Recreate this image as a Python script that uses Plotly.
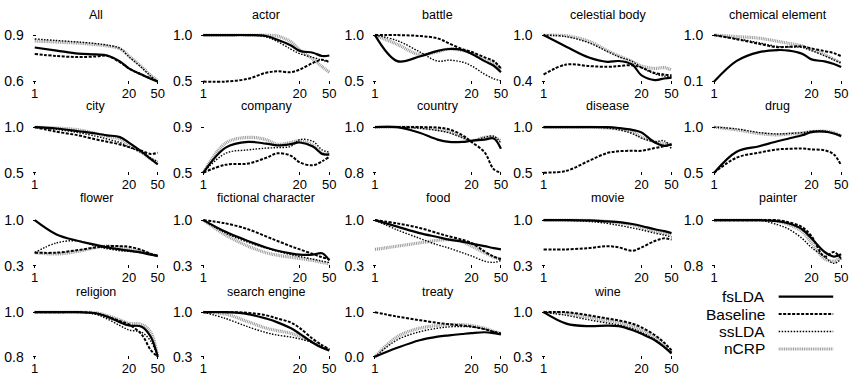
import math
import plotly.graph_objects as go

# ---------------- data ----------------
X = [1, 2, 4, 7, 10, 15, 20, 30, 40, 50]
X_TICKS = [1, 20, 50]
SERIES = ["fsLDA", "Baseline", "ssLDA", "nCRP"]

TITLES = ["All", "actor", "battle", "celestial body", "chemical element",
          "city", "company", "country", "disease", "drug",
          "flower", "fictional character", "food", "movie", "painter",
          "religion", "search engine", "treaty", "wine"]

Y_MIN = [0.6, 0.5, 0.5, 0.4, 0.1,
         0.5, 0.5, 0.8, 0.5, 0.5,
         0.3, 0.3, 0.3, 0.3, 0.8,
         0.8, 0.3, 0.0, 0.3]
Y_MAX = [0.9, 1.0, 1.0, 1.0, 1.0,
         1.0, 0.9, 1.0, 1.0, 1.0,
         1.0, 1.0, 1.0, 1.0, 1.0,
         1.0, 1.0, 1.0, 1.0]

FSLDA = [
    [0.82, 0.80, 0.78, 0.775, 0.768, 0.73, 0.685, 0.645, 0.618, 0.60],   # All
    [1, 1, 1, 0.99, 0.95, 0.89, 0.83, 0.81, 0.775, 0.78],               # actor
    [1.0, 0.72, 0.77, 0.83, 0.85, 0.84, 0.80, 0.72, 0.67, 0.60],         # battle
    [1.0, 0.85, 0.71, 0.655, 0.665, 0.62, 0.48, 0.42, 0.44, 0.45],       # celestial body
    [0.1, 0.50, 0.67, 0.71, 0.70, 0.64, 0.53, 0.49, 0.44, 0.38],         # chemical element
    [1.0, 0.985, 0.955, 0.93, 0.91, 0.89, 0.83, 0.73, 0.65, 0.59],       # city
    [0.5, 0.72, 0.77, 0.755, 0.74, 0.75, 0.765, 0.73, 0.665, 0.66],      # company
    [1.0, 1.0, 0.975, 0.945, 0.935, 0.935, 0.94, 0.945, 0.95, 0.905],    # country
    [1, 1, 1, 1, 0.99, 0.97, 0.94, 0.83, 0.795, 0.81],                   # disease
    [0.5, 0.73, 0.79, 0.845, 0.875, 0.91, 0.945, 0.95, 0.93, 0.9],       # drug
    [1.0, 0.78, 0.68, 0.62, 0.58, 0.55, 0.53, 0.5, 0.47, 0.45],          # flower
    [1.0, 0.82, 0.68, 0.58, 0.53, 0.49, 0.47, 0.47, 0.49, 0.38],         # fictional character
    [1.0, 0.9, 0.8, 0.74, 0.7, 0.67, 0.64, 0.6, 0.57, 0.55],             # food
    [1.0, 1.0, 0.995, 0.98, 0.97, 0.94, 0.91, 0.86, 0.83, 0.8],          # movie
    [1, 1, 1, 0.995, 0.985, 0.96, 0.92, 0.86, 0.84, 0.85],               # painter
    [1, 1, 1, 0.995, 0.98, 0.955, 0.94, 0.935, 0.89, 0.8],               # religion
    [1.0, 1.0, 0.97, 0.9, 0.84, 0.75, 0.66, 0.52, 0.44, 0.4],            # search engine
    [0.0, 0.2, 0.37, 0.45, 0.48, 0.51, 0.53, 0.55, 0.53, 0.5],           # treaty
    [1.0, 0.82, 0.78, 0.79, 0.78, 0.72, 0.66, 0.56, 0.45, 0.35],         # wine
]
BASELINE = [
    [0.778, 0.765, 0.758, 0.762, 0.766, 0.725, 0.685, 0.645, 0.62, 0.60],
    [0.5, 0.5, 0.53, 0.595, 0.61, 0.60, 0.63, 0.70, 0.735, 0.71],
    [1.0, 1.0, 0.99, 0.965, 0.91, 0.85, 0.82, 0.76, 0.72, 0.64],
    [0.49, 0.62, 0.60, 0.59, 0.60, 0.61, 0.58, 0.51, 0.49, 0.48],
    [1.0, 0.92, 0.83, 0.765, 0.775, 0.78, 0.74, 0.69, 0.65, 0.59],
    [1.0, 0.95, 0.91, 0.865, 0.84, 0.81, 0.78, 0.74, 0.705, 0.72],
    [0.5, 0.57, 0.58, 0.63, 0.67, 0.65, 0.59, 0.565, 0.60, 0.64],
    [1.0, 1.0, 1.0, 0.998, 0.99, 0.965, 0.935, 0.89, 0.815, 0.80],
    [0.5, 0.52, 0.63, 0.715, 0.735, 0.74, 0.74, 0.77, 0.79, 0.81],
    [0.5, 0.665, 0.72, 0.755, 0.762, 0.765, 0.755, 0.745, 0.70, 0.58],
    [0.5, 0.5, 0.54, 0.58, 0.6, 0.6, 0.59, 0.54, 0.48, 0.45],
    [1.0, 0.95, 0.86, 0.75, 0.68, 0.6, 0.55, 0.48, 0.43, 0.4],
    [1.0, 0.95, 0.88, 0.8, 0.75, 0.7, 0.65, 0.52, 0.44, 0.4],
    [0.55, 0.55, 0.57, 0.6, 0.58, 0.53, 0.58, 0.68, 0.72, 0.7],
    [1, 1, 1, 1, 0.99, 0.97, 0.93, 0.84, 0.86, 0.83],
    [1, 1, 1, 0.995, 0.98, 0.96, 0.945, 0.9, 0.83, 0.8],
    [1.0, 1.0, 0.99, 0.95, 0.9, 0.84, 0.75, 0.58, 0.48, 0.42],
    [1.0, 0.9, 0.82, 0.76, 0.73, 0.7, 0.68, 0.62, 0.56, 0.52],
    [1.0, 1.0, 0.95, 0.9, 0.87, 0.82, 0.76, 0.64, 0.52, 0.4],
]
SSLDA = [
    [0.875, 0.865, 0.855, 0.845, 0.835, 0.815, 0.76, 0.69, 0.635, 0.60],
    [1, 1, 1, 0.98, 0.93, 0.85, 0.80, 0.76, 0.73, 0.71],
    [1.0, 0.94, 0.82, 0.72, 0.73, 0.71, 0.67, 0.58, 0.53, 0.51],
    [1.0, 0.98, 0.90, 0.79, 0.72, 0.66, 0.58, 0.50, 0.47, 0.46],
    [1.0, 0.93, 0.85, 0.78, 0.77, 0.76, 0.70, 0.60, 0.52, 0.46],
    [1.0, 0.975, 0.94, 0.9, 0.87, 0.83, 0.78, 0.72, 0.66, 0.62],
    [0.5, 0.67, 0.70, 0.715, 0.72, 0.73, 0.79, 0.775, 0.70, 0.68],
    [1.0, 1.0, 0.995, 0.985, 0.975, 0.955, 0.94, 0.955, 0.96, 0.93],
    [1, 1, 1, 0.99, 0.97, 0.93, 0.88, 0.84, 0.85, 0.76],
    [1.0, 0.98, 0.94, 0.925, 0.93, 0.94, 0.955, 0.955, 0.93, 0.91],
    [0.5, 0.65, 0.68, 0.6, 0.56, 0.53, 0.52, 0.5, 0.47, 0.45],
    [1.0, 0.8, 0.66, 0.57, 0.52, 0.47, 0.44, 0.4, 0.37, 0.35],
    [1.0, 0.85, 0.72, 0.62, 0.57, 0.5, 0.45, 0.37, 0.35, 0.38],
    [1.0, 0.995, 0.98, 0.95, 0.92, 0.88, 0.85, 0.8, 0.77, 0.74],
    [1, 1, 1, 0.98, 0.96, 0.92, 0.88, 0.84, 0.81, 0.83],
    [1, 1, 1, 0.99, 0.97, 0.94, 0.92, 0.91, 0.87, 0.8],
    [1.0, 0.9, 0.77, 0.68, 0.64, 0.61, 0.58, 0.52, 0.45, 0.4],
    [0.0, 0.38, 0.56, 0.64, 0.67, 0.68, 0.67, 0.62, 0.56, 0.5],
    [1.0, 0.95, 0.88, 0.83, 0.8, 0.74, 0.68, 0.57, 0.46, 0.37],
]
NCRP = [
    [0.862, 0.855, 0.848, 0.838, 0.83, 0.812, 0.765, 0.695, 0.64, 0.605],
    [1, 1, 1, 1, 0.99, 0.93, 0.84, 0.74, 0.66, 0.6],
    [1.0, 0.90, 0.79, 0.82, 0.85, 0.835, 0.81, 0.73, 0.70, 0.63],
    [1.0, 0.99, 0.92, 0.80, 0.73, 0.66, 0.60, 0.57, 0.58, 0.55],
    [1.0, 0.97, 0.94, 0.88, 0.84, 0.79, 0.72, 0.62, 0.53, 0.46],
    [1.0, 0.99, 0.97, 0.93, 0.9, 0.87, 0.81, 0.72, 0.65, 0.61],
    [0.5, 0.76, 0.81, 0.79, 0.75, 0.765, 0.78, 0.74, 0.67, 0.66],
    [1.0, 1.0, 0.998, 0.99, 0.98, 0.955, 0.94, 0.955, 0.955, 0.94],
    [1, 1, 1, 0.99, 0.98, 0.95, 0.89, 0.84, 0.82, 0.81],
    [1.0, 0.97, 0.93, 0.915, 0.925, 0.935, 0.95, 0.955, 0.94, 0.9],
    [0.5, 0.48, 0.52, 0.58, 0.6, 0.58, 0.55, 0.52, 0.48, 0.45],
    [1.0, 0.77, 0.6, 0.5, 0.46, 0.43, 0.41, 0.38, 0.35, 0.33],
    [0.55, 0.6, 0.65, 0.69, 0.7, 0.67, 0.6, 0.5, 0.43, 0.4],
    [1.0, 1.0, 0.995, 0.98, 0.96, 0.93, 0.89, 0.83, 0.8, 0.78],
    [1, 1, 1, 0.995, 0.98, 0.95, 0.9, 0.83, 0.82, 0.84],
    [1, 1, 1, 0.997, 0.985, 0.965, 0.95, 0.945, 0.91, 0.8],
    [1.0, 0.97, 0.85, 0.75, 0.71, 0.67, 0.62, 0.53, 0.46, 0.4],
    [0.0, 0.45, 0.64, 0.7, 0.72, 0.72, 0.7, 0.64, 0.57, 0.52],
    [1.0, 0.98, 0.92, 0.87, 0.84, 0.78, 0.72, 0.6, 0.48, 0.36],
]

# ---------------- styling / layout ----------------
W, H = 865, 386
FONT = "Liberation Sans, Arial, sans-serif"
STYLES = {
    "fsLDA": dict(color="black", width=2.2, dash="solid"),
    "Baseline": dict(color="black", width=2.0, dash="3px,1.5px"),
    "ssLDA": dict(color="black", width=1.4, dash="1.5px,1.5px"),
    "nCRP": dict(color="#9c9c9c", width=3.2, dash="1px,0.8px"),
}
DRAW_ORDER = ["nCRP", "ssLDA", "Baseline", "fsLDA"]
DATA = {"fsLDA": FSLDA, "Baseline": BASELINE, "ssLDA": SSLDA, "nCRP": NCRP}

COLS_PX = [(33, 157), (203, 330), (376, 503), (546, 675), (718, 846)]
ROWS_PX = [(30, 78), (125, 172), (221, 268), (316, 362)]
TITLE_Y = [9, 103, 198, 295]
PAD = 2

fig = go.Figure()
layout = dict(width=W, height=H, margin=dict(l=0, r=0, t=0, b=0),
              paper_bgcolor="white", plot_bgcolor="white", showlegend=False,
              font=dict(family=FONT, size=13, color="black"))
annotations = []
shapes = []

for i, title in enumerate(TITLES):
    r, c = divmod(i, 5)
    x0, x1 = COLS_PX[c]
    y0, y1 = ROWS_PX[r]
    lx0, lx1 = 0.0, math.log10(X[-1])
    dppx = (lx1 - lx0) / (x1 - x0)
    ymin, ymax = Y_MIN[i], Y_MAX[i]
    dppy = (ymax - ymin) / (y1 - y0)
    n = "" if i == 0 else str(i + 1)
    layout["xaxis" + n] = dict(
        domain=[(x0 - PAD) / W, (x1 + PAD) / W],
        type="log", range=[lx0 - PAD * dppx, lx1 + PAD * dppx],
        tickvals=X_TICKS, ticktext=[str(v) for v in X_TICKS],
        ticks="inside", ticklen=3, tickcolor="black", tickwidth=1,
        showgrid=False, zeroline=False, showline=False,
        anchor="y" + n, tickfont=dict(size=13), fixedrange=True)
    layout["yaxis" + n] = dict(
        domain=[1 - (y1 + PAD) / H, 1 - (y0 - PAD) / H],
        range=[ymin - PAD * dppy, ymax + PAD * dppy],
        tickvals=[ymin, ymax], tickformat=".1f",
        ticks="inside", ticklen=3, tickcolor="black", tickwidth=1,
        showgrid=False, zeroline=False, showline=False,
        anchor="x" + n, tickfont=dict(size=14), ticklabelstandoff=8,
        fixedrange=True)
    for s in DRAW_ORDER:
        fig.add_trace(go.Scatter(
            x=X, y=DATA[s][i], mode="lines", name=s,
            line=dict(shape="spline", smoothing=1.0, **STYLES[s]),
            xaxis="x" + n, yaxis="y" + n, hoverinfo="skip"))
    annotations.append(dict(
        text=title, x=((x0 + x1) / 2) / W, y=1 - TITLE_Y[r] / H,
        xref="paper", yref="paper", xanchor="center", yanchor="middle",
        showarrow=False, font=dict(size=12.5)))

# legend drawn in the empty last cell
LEG_Y = [300, 318, 336, 354]
for k, s in enumerate(SERIES):
    yy = 1 - LEG_Y[k] / H
    annotations.append(dict(
        text=s, x=771 / W, y=yy, xref="paper", yref="paper",
        xanchor="right", yanchor="middle", showarrow=False,
        font=dict(size=15.5)))
    st = STYLES[s]
    shapes.append(dict(type="line", xref="paper", yref="paper",
                       x0=783 / W, x1=838 / W, y0=yy, y1=yy,
                       line=dict(color=st["color"], width=st["width"],
                                 dash=st["dash"])))

layout["annotations"] = annotations
layout["shapes"] = shapes
fig.update_layout(**layout)
fig.write_html("out.html")
